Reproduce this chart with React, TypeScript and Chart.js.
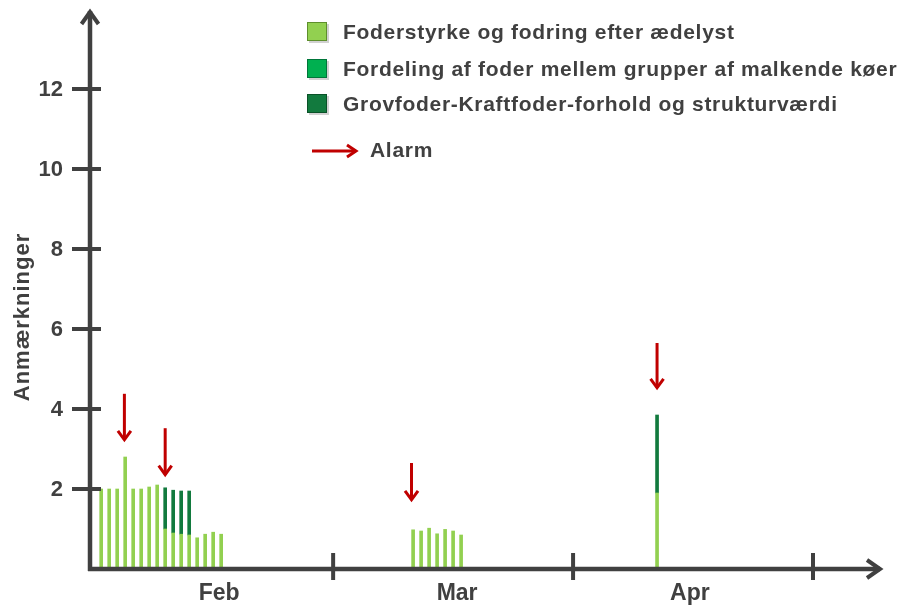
import React, { useEffect, useRef } from 'react';
import { Chart, registerables } from 'chart.js';

Chart.register(...registerables);

// ---- data ----
const lightDays = [1, 2, 3, 4, 5, 6, 7, 8, 9, 10, 11, 12, 13, 14, 15, 16, 40, 41, 42, 43, 44, 45, 46, 70.5];
const lightValues = [2.0, 2.0, 2.0, 2.8, 2.0, 2.0, 2.05, 2.1, 1.0, 0.9, 0.87, 0.85, 0.78, 0.87, 0.92, 0.87, 0.98, 0.95, 1.02, 0.88, 0.99, 0.95, 0.85, 1.9];
const midDays: number[] = [];
const midValues: number[] = [];
const darkDays = [9, 10, 11, 12, 70.5];
const darkValues = [1.03, 1.07, 1.08, 1.1, 1.95];

const seriesLabels = [
  'Foderstyrke og fodring efter ædelyst',
  'Fordeling af foder mellem grupper af malkende køer',
  'Grovfoder-Kraftfoder-forhold og strukturværdi',
];
const seriesColors = ['#92D050', '#00B050', '#127A3E'];
const seriesBorders = ['#5E8F2C', '#00763A', '#0A5228'];

const yTicks = [2, 4, 6, 8, 10, 12];
const monthTicks = [30, 60, 90];
const monthLabels = ['Feb', 'Mar', 'Apr'];
const monthLabelPos = [15.75, 45.5, 74.6];

const alarmDays = [3.9, 9.0, 39.8, 70.5];
const alarmTop = [4.38, 3.52, 2.65, 5.65];
const alarmTip = [3.18, 2.31, 1.68, 4.48];
const alarmLabel = 'Alarm';
const yTitle = 'Anmærkninger';

const AXIS = '#404040';
const RED = '#C00000';
const FONT = '"Liberation Sans", Arial, sans-serif';

function drawArrowDown(ctx: CanvasRenderingContext2D, x: number, yTop: number, yTip: number) {
  ctx.save();
  ctx.strokeStyle = RED;
  ctx.lineWidth = 3;
  ctx.lineCap = 'butt';
  ctx.beginPath();
  ctx.moveTo(x, yTop);
  ctx.lineTo(x, yTip - 2);
  ctx.stroke();
  ctx.lineJoin = 'miter';
  ctx.beginPath();
  ctx.moveTo(x - 6.5, yTip - 11);
  ctx.lineTo(x, yTip - 2);
  ctx.lineTo(x + 6.5, yTip - 11);
  ctx.stroke();
  ctx.restore();
}

const decorPlugin = {
  id: 'decor',
  afterDatasetsDraw(chart: any) {
    const ctx: any = chart.ctx;
    const xs = chart.scales.x;
    const ys = chart.scales.y;
    const x0 = xs.getPixelForValue(xs.min);
    const y0 = ys.getPixelForValue(0);
    ctx.save();

    // axes
    ctx.strokeStyle = AXIS;
    ctx.lineWidth = 4.5;
    ctx.lineCap = 'butt';
    ctx.beginPath();
    ctx.moveTo(x0, y0 + 2);
    ctx.lineTo(x0, 11);
    ctx.stroke();
    ctx.beginPath();
    ctx.moveTo(x0 - 2, y0);
    ctx.lineTo(880, y0);
    ctx.stroke();
    ctx.lineWidth = 4;
    ctx.lineJoin = 'miter';
    ctx.beginPath();
    ctx.moveTo(x0 - 8.5, 24);
    ctx.lineTo(x0, 12);
    ctx.lineTo(x0 + 8.5, 24);
    ctx.stroke();
    ctx.beginPath();
    ctx.moveTo(867, y0 - 9);
    ctx.lineTo(880, y0);
    ctx.lineTo(867, y0 + 9);
    ctx.stroke();

    // y ticks
    ctx.lineWidth = 4;
    ctx.fillStyle = AXIS;
    ctx.font = `bold 22px ${FONT}`;
    ctx.textAlign = 'right';
    ctx.textBaseline = 'middle';
    yTicks.forEach((v) => {
      const y = ys.getPixelForValue(v);
      ctx.beginPath();
      ctx.moveTo(x0 - 18, y);
      ctx.lineTo(x0 + 11, y);
      ctx.stroke();
      ctx.fillText(String(v), x0 - 27, y + 1);
    });

    // x ticks
    monthTicks.forEach((v) => {
      const x = xs.getPixelForValue(v);
      ctx.beginPath();
      ctx.moveTo(x, y0 - 16);
      ctx.lineTo(x, y0 + 11);
      ctx.stroke();
    });
    ctx.textAlign = 'center';
    ctx.font = `bold 23px ${FONT}`;
    monthLabels.forEach((m, i) => {
      ctx.fillText(m, xs.getPixelForValue(monthLabelPos[i]), y0 + 25);
    });

    // y title
    ctx.save();
    ctx.translate(23, 317);
    ctx.rotate(-Math.PI / 2);
    ctx.font = `bold 22px ${FONT}`;
    ctx.letterSpacing = '1px';
    ctx.textAlign = 'center';
    ctx.textBaseline = 'middle';
    ctx.fillText(yTitle, 0, 0);
    ctx.restore();

    // alarms
    alarmDays.forEach((d, i) => {
      drawArrowDown(ctx, xs.getPixelForValue(d), ys.getPixelForValue(alarmTop[i]), ys.getPixelForValue(alarmTip[i]));
    });

    // legend
    const rowsY = [32, 69, 104];
    ctx.font = `bold 21px ${FONT}`;
    ctx.letterSpacing = '0.7px';
    ctx.textAlign = 'left';
    ctx.textBaseline = 'middle';
    seriesLabels.forEach((lab, i) => {
      const cy = rowsY[i];
      ctx.fillStyle = 'rgba(0,0,0,0.18)';
      ctx.fillRect(309, cy - 8, 20, 19);
      ctx.fillStyle = seriesColors[i];
      ctx.fillRect(307, cy - 10, 20, 19);
      ctx.strokeStyle = seriesBorders[i];
      ctx.lineWidth = 1;
      ctx.strokeRect(307.5, cy - 9.5, 19, 18);
      ctx.fillStyle = AXIS;
      ctx.fillText(lab, 343, cy + 1);
    });
    // alarm legend
    ctx.strokeStyle = RED;
    ctx.lineWidth = 3;
    ctx.beginPath();
    ctx.moveTo(312, 151);
    ctx.lineTo(356, 151);
    ctx.stroke();
    ctx.beginPath();
    ctx.moveTo(347, 145);
    ctx.lineTo(356, 151);
    ctx.lineTo(347, 157);
    ctx.stroke();
    ctx.fillStyle = AXIS;
    ctx.fillText(alarmLabel, 370, 151);

    ctx.restore();
  },
};

export default function App() {
  const ref = useRef<HTMLCanvasElement | null>(null);
  useEffect(() => {
    if (!ref.current) return;
    const chart = new Chart(ref.current, {
      type: 'bar',
      data: {
        datasets: [
          {
            label: seriesLabels[0],
            data: lightDays.map((x, i) => ({ x, y: lightValues[i] })),
            backgroundColor: seriesColors[0],
          },
          {
            label: seriesLabels[1],
            data: midDays.map((x, i) => ({ x, y: midValues[i] })),
            backgroundColor: seriesColors[1],
          },
          {
            label: seriesLabels[2],
            data: darkDays.map((x, i) => ({ x, y: darkValues[i] })),
            backgroundColor: seriesColors[2],
          },
        ],
      },
      options: {
        responsive: false,
        animation: false,
        layout: { padding: { left: 90, right: 21, top: 9, bottom: 37 } },
        datasets: { bar: { barThickness: 3 } },
        scales: {
          x: { type: 'linear', min: -0.4, max: 98.5, stacked: true, display: false, offset: false, grid: { offset: false } },
          y: { min: 0, max: 14, stacked: true, display: false },
        },
        plugins: { legend: { display: false }, tooltip: { enabled: false } },
      } as any,
      plugins: [decorPlugin],
    });
    return () => chart.destroy();
  }, []);
  return (
    <div style={{ position: 'fixed', left: 0, top: 0, width: 902, height: 606, background: '#fff' }}>
      <canvas ref={ref} width={902} height={606} />
    </div>
  );
}
